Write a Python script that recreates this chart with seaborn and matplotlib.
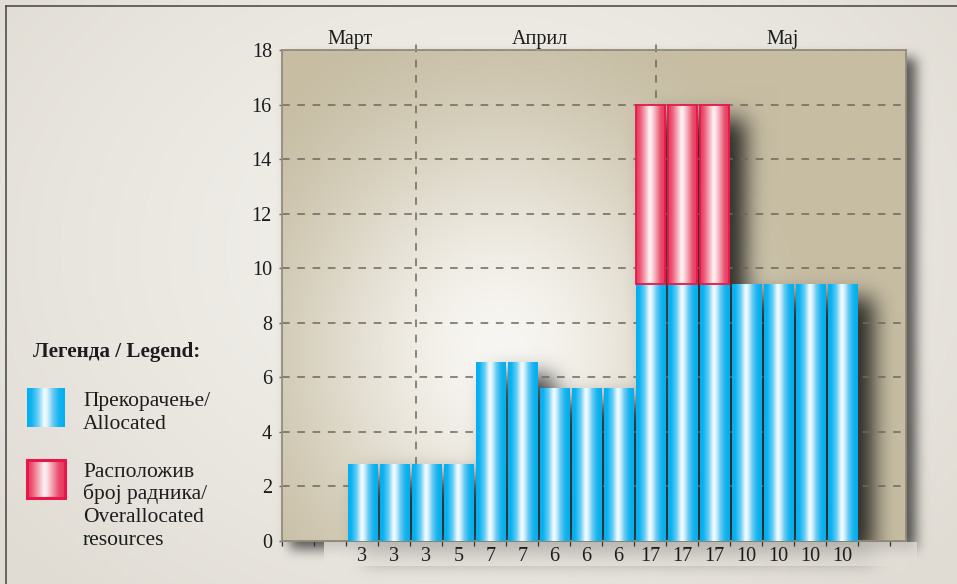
import numpy as np
import pandas as pd
import matplotlib
matplotlib.use("Agg")
import matplotlib.pyplot as plt
from matplotlib.colors import to_rgb
from matplotlib.patches import Rectangle
import seaborn as sns

# ---------------- data ----------------
task_counts = ["3", "3", "3", "5", "7", "7", "6", "6", "6",
               "17", "17", "17", "10", "10", "10", "10"]
allocated = [2.82, 2.82, 2.82, 2.82, 6.57, 6.57, 5.60, 5.60, 5.60,
             9.42, 9.42, 9.42, 9.42, 9.42, 9.42, 9.42]
overallocated = [0, 0, 0, 0, 0, 0, 0, 0, 0,
                 6.58, 6.58, 6.58, 0, 0, 0, 0]
months = ["Март", "Април", "Мај"]
month_centers = [2.12, 8.05, 15.64]
month_bounds = [4.18, 11.68]
y_ticks = [0, 2, 4, 6, 8, 10, 12, 14, 16, 18]

legend_title = "Легенда / Legend:"
legend_allocated = ["Прекорачење/", "Allocated"]
legend_over = ["Расположив", "број радника/", "Overallocated", "resources"]

# ---------------- style ----------------
plt.rcParams["font.family"] = ["Liberation Serif", "DejaVu Serif"]
TEXT = "#1c1c1c"
GRID = "#6f675b"
W, H = 957, 584
PL, PR, PT, PB = 282.3, 906.0, 50.0, 541.0   # plot frame in pixels

BLUE_STOPS = [(0.00, "#00aeef"), (0.12, "#10b3ef"), (0.30, "#6fd0f6"),
              (0.45, "#f4fbfe"), (0.53, "#dff4fc"), (0.68, "#6bcbf4"),
              (0.84, "#16b4ef"), (1.00, "#00aeef")]
RED_STOPS = [(0.00, "#e8365c"), (0.12, "#eb5372"), (0.30, "#f5a6b4"),
             (0.45, "#fff3f5"), (0.53, "#fbe0e5"), (0.68, "#f298a9"),
             (0.84, "#ea4b6a"), (1.00, "#e8365c")]


def ramp(stops, n=256):
    pos = np.array([s[0] for s in stops])
    cols = np.array([to_rgb(s[1]) for s in stops])
    t = np.linspace(0, 1, n)
    return np.stack([np.interp(t, pos, cols[:, i]) for i in range(3)], axis=-1)[None]


def blur(a, sigma):
    r = int(3 * sigma) + 1
    k = np.exp(-0.5 * (np.arange(-r, r + 1) / sigma) ** 2)
    k /= k.sum()
    p = np.pad(a, r)
    h, w = a.shape
    tmp = sum(k[i] * p[:, i:i + w] for i in range(2 * r + 1))
    return sum(k[i] * tmp[i:i + h, :] for i in range(2 * r + 1))


def px(x, y):
    """pixel position (from top-left) -> figure fraction"""
    return x / W, 1 - y / H


fig = plt.figure(figsize=(W / 100, H / 100), dpi=100)
bg = fig.add_axes([0, 0, 1, 1])
bg.set_zorder(0)
bg.axis("off")

ax = fig.add_axes([PL / W, 1 - PB / H, (PR - PL) / W, (PB - PT) / H])
ax.set_zorder(2)
ax.patch.set_visible(False)

df = pd.DataFrame({"pos": np.arange(len(allocated)) + 2.5,
                   "allocated": allocated,
                   "over": overallocated})
over_df = df[df["over"] > 0]

sns.barplot(data=df, x="pos", y="allocated", native_scale=True, width=0.92,
            errorbar=None, color="#00aeef", linewidth=0, zorder=3, ax=ax)
n_blue = len(ax.patches)
sns.barplot(data=over_df, x="pos", y="over", native_scale=True, width=0.92,
            errorbar=None, color="#e8365c", bottom=over_df["allocated"].to_numpy(),
            linewidth=1.3, edgecolor="#e8174a", zorder=3, ax=ax)

blue_grad = ramp(BLUE_STOPS)
red_grad = ramp(RED_STOPS)
for i, p in enumerate(list(ax.patches)):
    grad = blue_grad if i < n_blue else red_grad
    x0, y0, w, h = p.get_x(), p.get_y(), p.get_width(), p.get_height()
    p.set_facecolor("none")
    p.set_zorder(3.2)
    im = ax.imshow(grad, extent=(x0, x0 + w, y0, y0 + h), aspect="auto",
                   interpolation="bilinear", zorder=3.0)
    im.set_clip_path(p)

# axes, ticks, grid
ax.set_xlim(0, (PR - PL) / 32.0)
ax.set_ylim(0, 18)
ax.set_xlabel("")
ax.set_ylabel("")
ax.set_yticks(y_ticks)
ax.set_xticks(np.arange(0, 20))
ax.set_xticklabels([])
ax.set_xticks(df["pos"], labels=task_counts, minor=True)
ax.tick_params(axis="x", which="major", length=3.6, width=0.9, color="#333333",
               direction="out")
ax.tick_params(axis="x", which="minor", length=0, pad=4.5, labelsize=14.5,
               labelcolor=TEXT)
ax.tick_params(axis="y", length=2.5, width=1, color=GRID, pad=5,
               labelsize=14.5, labelcolor=TEXT)
ax.set_axisbelow(True)
ax.yaxis.grid(True, color=GRID, linestyle=(0, (5, 5)), linewidth=1.1)
ax.xaxis.grid(False)
for s in ax.spines.values():
    s.set_color("#948c7c")
    s.set_linewidth(1.3)

for b in month_bounds:
    ax.axvline(b, ymin=0, ymax=(PB - 43) / (PB - PT), color=GRID,
               linestyle=(0, (5, 5)), linewidth=1.1, clip_on=False, zorder=0.5)
for name, c in zip(months, month_centers):
    ax.text(c, (PB - 44) / (PB - PT), name, transform=ax.get_xaxis_transform(),
            ha="center", va="baseline", fontsize=14.5, color=TEXT)

# ---------------- background with shadows ----------------
yy, xx = np.mgrid[0:H, 0:W] + 0.5

fig_c, fig_e = np.array(to_rgb("#f3f1ec")), np.array(to_rgb("#e0dcd4"))
t = np.clip(np.sqrt(((xx - 480) / 620) ** 2 + ((yy - 250) / 470) ** 2), 0, 1)
base = fig_c + (fig_e - fig_c) * (t ** 1.4)[..., None]

plot_c, plot_e = np.array(to_rgb("#f8f6f2")), np.array(to_rgb("#c6bda3"))
t = np.sqrt(((xx - 500) / 330) ** 2 + ((yy - 350) / 370) ** 2)
u = np.clip(1 - t, 0, 1)
wl = u * u * (3 - 2 * u)
plot_img = plot_e + (plot_c - plot_e) * wl[..., None]
inside = (xx >= PL) & (xx < PR) & (yy >= PT) & (yy < PB)
base[inside] = plot_img[inside]

# shadow cast by the plot frame
fm = np.zeros((H, W))
fm[int(PT + 8):int(PB + 8), int(PL + 8):int(PR + 10)] = 1
frame_sh = 0.62 * blur(fm, 6)
frame_sh[inside] = 0

# shadow cast by the bars
dx, dy = 16, 14
bm = np.zeros((H, W))
for p in ax.patches:
    (x0, y0), (x1, y1) = ax.transData.transform(
        [(p.get_x(), p.get_y()),
         (p.get_x() + p.get_width(), p.get_y() + p.get_height())])
    r0, r1 = H - max(y0, y1), H - min(y0, y1)
    c0, c1 = min(x0, x1), max(x0, x1)
    bm[int(round(r0 + dy)):int(round(r1 + dy)),
       int(round(c0 + dx)):int(round(c1 + dx))] = 1
bar_sh = 0.82 * blur(bm, 11)

shadow = 1 - (1 - frame_sh) * (1 - bar_sh)
strip = (xx >= 324) & (xx < 917) & (yy >= PB + 1) & (yy < 566)
shadow[strip] *= 0.22
img = base * (1 - shadow[..., None])

bg.imshow(np.clip(img, 0, 1), extent=(0, W, H, 0), aspect="auto",
          interpolation="bilinear")
bg.plot([6, W], [6, 6], color="#4f4f4f", lw=1.2)
bg.plot([6, 6], [6, H], color="#4f4f4f", lw=1.2)
bg.set_xlim(0, W)
bg.set_ylim(H, 0)

# ---------------- legend ----------------
fig.text(*px(33, 357), legend_title, fontsize=15.2, fontweight="bold",
         color=TEXT, va="baseline", ha="left")


def swatch(x, y, w, h, grad, edge):
    sa = fig.add_axes([x / W, 1 - (y + h) / H, w / W, h / H])
    sa.set_zorder(3)
    sa.imshow(grad, aspect="auto", extent=(0, 1, 0, 1), interpolation="bilinear")
    sa.set_xlim(0, 1)
    sa.set_ylim(0, 1)
    sa.axis("off")
    if edge:
        sa.add_patch(Rectangle((0, 0), 1, 1, fill=False, edgecolor=edge,
                               linewidth=2.2, transform=sa.transAxes, clip_on=False))


swatch(27, 388, 38, 39, blue_grad, None)
swatch(27, 460, 38, 38, red_grad, "#e8174a")

for i, line in enumerate(legend_allocated):
    fig.text(*px(83, 406 + 22.7 * i), line, fontsize=15.5, color=TEXT,
             va="baseline", ha="left")
for i, line in enumerate(legend_over):
    fig.text(*px(83, 476.7 + 22.7 * i), line, fontsize=15.5, color=TEXT,
             va="baseline", ha="left")

fig.savefig("out.png", dpi=100)
